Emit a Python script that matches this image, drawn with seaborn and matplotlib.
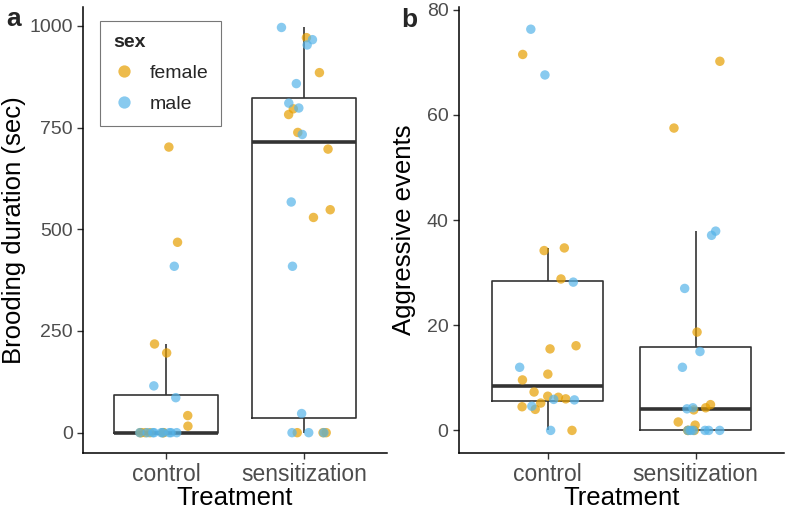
"""Brooding duration and aggressive events by treatment and sex."""
import numpy as np
import pandas as pd
import matplotlib
matplotlib.use("Agg")
import matplotlib.pyplot as plt
import seaborn as sns

# ---- data ----
treatments = ["control", "sensitization"]
sexes = ["female", "male"]

brood_control_female = [702, 468, 218, 196, 42, 16, 0, 0, 0, 0, 0, 0]
brood_control_male = [409, 115, 86, 0, 0, 0, 0, 0, 0, 0, 0, 0]
brood_sens_female = [971, 885, 796, 782, 738, 697, 548, 529, 0, 0, 0]
brood_sens_male = [996, 966, 953, 858, 810, 798, 733, 567, 409, 47, 0, 0, 0]

aggr_control_female = [71.5, 34.7, 34.2, 28.8, 16.1, 15.5, 10.7, 9.6, 7.3, 6.5,
                       6.3, 6.0, 5.2, 4.5, 4.0, 0]
aggr_control_male = [76.3, 67.6, 28.2, 12.0, 5.9, 5.8, 4.6, 0]
aggr_sens_female = [70.2, 57.5, 18.7, 4.9, 4.3, 3.9, 1.6, 1.0, 0, 0, 0]
aggr_sens_male = [37.9, 37.1, 27.0, 15.0, 12.0, 4.3, 4.1, 0, 0, 0, 0, 0, 0]

brood_ticks = [0, 250, 500, 750, 1000]
aggr_ticks = [0, 20, 40, 60, 80]


def build_frame(groups):
    rows = []
    for (treat, sex), vals in groups.items():
        for v in vals:
            rows.append({"Treatment": treat, "sex": sex, "value": v})
    return pd.DataFrame(rows)


brood = build_frame({
    ("control", "female"): brood_control_female,
    ("control", "male"): brood_control_male,
    ("sensitization", "female"): brood_sens_female,
    ("sensitization", "male"): brood_sens_male,
})
aggr = build_frame({
    ("control", "female"): aggr_control_female,
    ("control", "male"): aggr_control_male,
    ("sensitization", "female"): aggr_sens_female,
    ("sensitization", "male"): aggr_sens_male,
})

# ---- style ----
sns.set_style("ticks")
plt.rcParams["font.family"] = ["Liberation Sans", "DejaVu Sans"]
palette = {"female": "#E69F00", "male": "#56B4E9"}
line_col = "#333333"
tick_col = "#4D4D4D"

fig = plt.figure(figsize=(7.86, 5.09), dpi=100)
ax_a = fig.add_axes([0.106, 0.110, 0.386, 0.876])
ax_b = fig.add_axes([0.584, 0.110, 0.414, 0.876])


def draw_panel(ax, df, ylabel, ylim, ticks, seed, label_x):
    sns.boxplot(data=df, x="Treatment", y="value", order=treatments, ax=ax,
                fill=False, color=line_col, linewidth=1.2, width=0.75,
                showfliers=False, showcaps=False,
                medianprops={"linewidth": 2.6, "color": line_col})
    np.random.seed(seed)
    sns.stripplot(data=df, x="Treatment", y="value", order=treatments,
                  hue="sex", hue_order=sexes, palette=palette, ax=ax,
                  jitter=0.2, size=6.8, alpha=0.7, linewidth=0)
    ax.set_xlim(-0.6, 1.6)
    ax.set_ylim(*ylim)
    ax.set_yticks(ticks)
    ax.set_yticklabels([str(t) for t in ticks])
    ax.set_ylabel(ylabel, fontsize=18.5, color="black")
    ax.yaxis.set_label_coords(label_x, 0.5)
    ax.set_xlabel("Treatment", fontsize=18.5, color="black", labelpad=0)
    ax.tick_params(axis="x", labelsize=16.5, labelcolor=tick_col,
                   color=line_col, length=4, width=1)
    ax.tick_params(axis="y", labelsize=14, labelcolor=tick_col,
                   color=line_col, length=4, width=1)
    for side in ("left", "bottom"):
        ax.spines[side].set_linewidth(1.1)
        ax.spines[side].set_color("black")
    sns.despine(ax=ax)


draw_panel(ax_a, brood, "Brooding duration (sec)", (-50, 1046), brood_ticks, 3, -0.188)
draw_panel(ax_b, aggr, "Aggressive events", (-4.3, 80.5), aggr_ticks, 7, -0.132)

ax_b.get_legend().remove()
leg = ax_a.legend(title="sex", loc="upper left", bbox_to_anchor=(0.056, 0.969),
                  borderaxespad=0, fontsize=14,
                  title_fontproperties={"weight": "bold", "size": 14},
                  frameon=True, fancybox=False, edgecolor="#555555",
                  markerscale=1.3, handlelength=1.17, handletextpad=0.7,
                  borderpad=0.65, labelspacing=0.7)
leg.get_frame().set_linewidth(0.8)
leg._legend_box.align = "left"

fig.text(0.008, 0.949, "a", fontsize=19, fontweight="bold", va="baseline")
fig.text(0.511, 0.947, "b", fontsize=19, fontweight="bold", va="baseline")

fig.savefig("out.png", dpi=100)
